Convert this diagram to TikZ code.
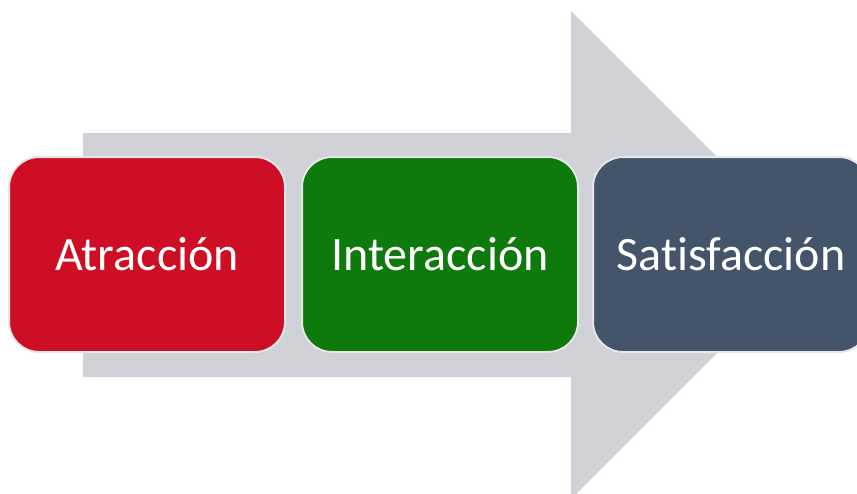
\documentclass[tikz,border=0pt]{standalone}
\usepackage{fontspec}
\setmainfont{Carlito}[Ligatures={NoCommon,NoContextual}]
\definecolor{arrowgray}{HTML}{D0D2D7}
\definecolor{redbox}{HTML}{CE0E24}
\definecolor{greenbox}{HTML}{0E7A0C}
\definecolor{bluebox}{HTML}{44546A}
\definecolor{edgegray}{HTML}{E6E6E6}
\tikzset{
  stagebox/.style={draw=edgegray, line width=2pt, rounded corners=30pt,
    minimum width=276pt, minimum height=195pt, inner sep=0pt,
    text=white, font=\fontsize{48pt}{52pt}\selectfont},
}
\begin{document}
\begin{tikzpicture}[x=1pt,y=-1pt]
\useasboundingbox (0,0) rectangle (857,493);
\begin{scope}
\clip (0,0) rectangle (857,493);
\fill[arrowgray] (83,133) -- (571,133) -- (571,11) -- (815,255) -- (571,499) -- (571,377) -- (83,377) -- cycle;
\node[stagebox, fill=redbox] (a) at (147,254.5) {Atracción};
\node[stagebox, fill=greenbox] (b) at (440,254.5) {Interacción};
\node[stagebox, fill=bluebox] (c) at (731,254.5) {Satisfacción};
\end{scope}
\end{tikzpicture}
\end{document}
